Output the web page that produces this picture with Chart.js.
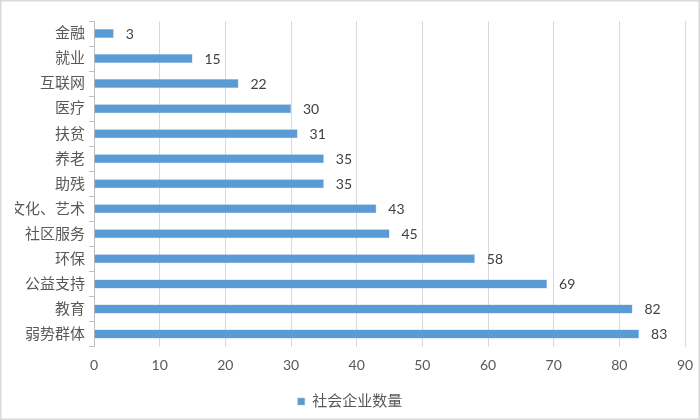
<!DOCTYPE html>
<html><head><meta charset="utf-8">
<script src="https://cdn.jsdelivr.net/npm/chart.js@4"></script>
<style>html,body{margin:0;padding:0;background:#fff}#w{width:700px;height:420px;position:relative}</style>
</head><body><div id="w"><canvas id="c" width="700" height="420"></canvas></div>
<script>
const categories = ["金融","就业","互联网","医疗","扶贫","养老","助残","文化、艺术","社区服务","环保","公益支持","教育","弱势群体"];
const values = [3,15,22,30,31,35,35,43,45,58,69,82,83];
const seriesName = "社会企业数量";
const xTicks = [0,10,20,30,40,50,60,70,80,90];

const FONT = "Lato, 'Noto Sans CJK SC', sans-serif";
const labelPlugin = {
  id: 'lbl',
  afterDatasetsDraw(chart) {
    const ctx = chart.ctx;
    const meta = chart.getDatasetMeta(0);
    ctx.save();
    ctx.font = "14px " + FONT;
    ctx.fillStyle = "#404040";
    ctx.textAlign = "left";
    ctx.textBaseline = "middle";
    meta.data.forEach((bar, i) => {
      ctx.fillText(String(values[i]), bar.x + 12, bar.y + 1);
    });
    ctx.restore();
  }
};
const borderPlugin = {
  id: 'brd',
  afterDraw(chart) {
    const ctx = chart.ctx;
    ctx.save();
    ctx.strokeStyle = "#d9d9d9";
    ctx.lineWidth = 1.5;
    ctx.strokeRect(0.75, 0.75, chart.width - 1.5, chart.height - 1.5);
    ctx.restore();
  }
};

new Chart(document.getElementById('c'), {
  type: 'bar',
  data: {
    labels: categories,
    datasets: [{
      label: seriesName,
      data: values,
      backgroundColor: "#5b9bd5",
      borderColor: "#8cb9e3",
      borderWidth: 0.5,
      barPercentage: 0.36,
      categoryPercentage: 1.0
    }]
  },
  options: {
    indexAxis: 'y',
    responsive: false,
    animation: false,
    layout: { padding: { left: 15, right: 15, top: 21, bottom: 1 } },
    scales: {
      x: {
        min: 0, max: 90,
        afterBuildTicks(s) { s.ticks = xTicks.map(v => ({ value: v })); },
        afterFit(s) { s.height = 37.5; s.paddingRight = 0; s.paddingLeft = 0; },
        grid: { color: "#d9d9d9", lineWidth: 1, drawTicks: false },
        border: { display: false },
        ticks: { color: "#595959", font: { size: 14, family: FONT }, padding: 11 }
      },
      y: {
        afterFit(s) { s.width = 79; },
        grid: { offset: true, drawOnChartArea: false, drawTicks: true, tickLength: 5, color: "#bfbfbf" },
        border: { display: true, color: "#bfbfbf" },
        ticks: { color: "#595959", font: { size: 15, family: FONT }, padding: 4 }
      }
    },
    plugins: {
      legend: {
        position: 'bottom',
        labels: { boxWidth: 7, boxHeight: 7, color: "#595959", font: { size: 15, family: FONT }, padding: 10 }
      },
      tooltip: { enabled: false }
    }
  },
  plugins: [labelPlugin, borderPlugin]
});
</script></body></html>
